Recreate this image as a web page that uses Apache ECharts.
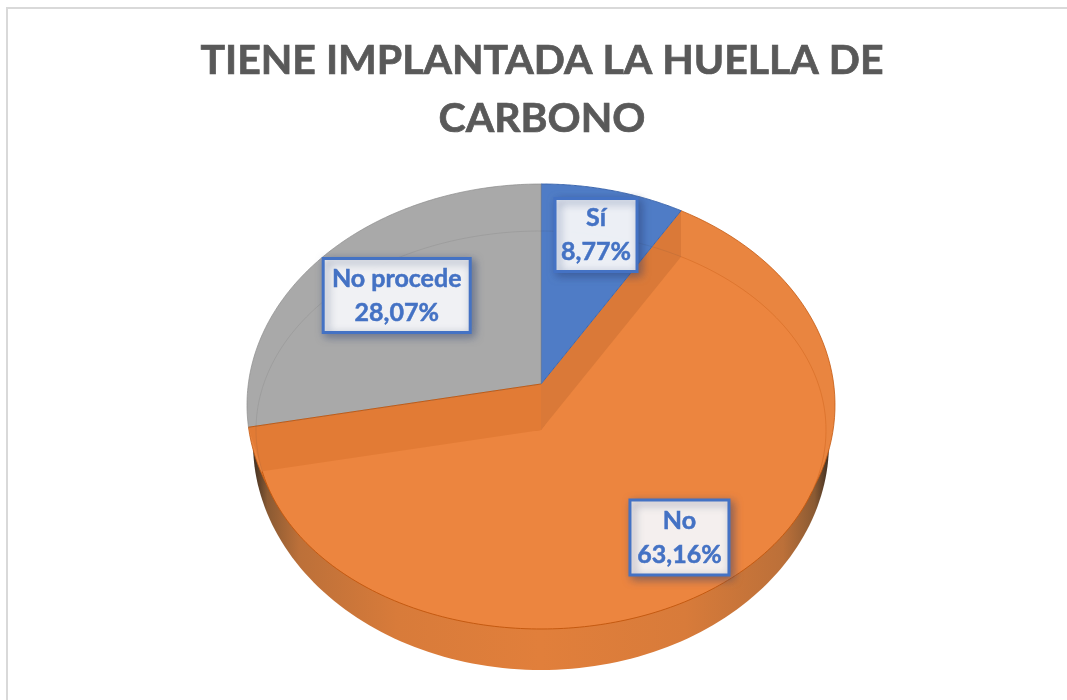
<!DOCTYPE html>
<html><head><meta charset="utf-8">
<style>html,body{margin:0;padding:0;background:#fff}#c{width:1067px;height:700px}</style>
<script src="https://cdn.jsdelivr.net/npm/echarts@6/dist/echarts.min.js"></script>
</head><body><div id="c"></div>
<script>
const categories = ['Sí', 'No', 'No procede'];
const values = [8.77, 63.16, 28.07];
const titleText = 'TIENE IMPLANTADA LA HUELLA DE\nCARBONO';

const total = values.reduce((s, v) => s + v, 0);
const cumulative = values.map((_, i) => values.slice(0, i).reduce((s, v) => s + v, 0) / total * Math.PI * 2);
const blueEnd = cumulative[1], grayStart = cumulative[2];

// view geometry of the tilted disc
const CX = 541, TOP_Y = 384, FACE_Y = 430;
const rim = { cx: CX, cy: 405, rx: 294, ry: 221 };
const face = { cx: CX, cy: FACE_Y, rx: 285, ry: 199 };
const base = { cx: CX, cy: 443, rx: 288, ry: 227 };
const warp = a => a - 0.042 * Math.sin(2 * a);   // foreshortening of the 3D view
const onEllipse = (e, p) => [e.cx + e.rx * Math.sin(p), e.cy - e.ry * Math.cos(p)];
const arc = (e, a0, a1, n = 120) => Array.from({ length: n + 1 }, (_, i) => onEllipse(e, a0 + (a1 - a0) * i / n));
// a ray leaving the raised apex in the face's projected direction, cut by the outer rim
function rimPhi(a) {
  const w = warp(a), dx = face.rx * Math.sin(w), dy = -face.ry * Math.cos(w);
  const ox = (CX - rim.cx) / rim.rx, oy = (TOP_Y - rim.cy) / rim.ry, ux = dx / rim.rx, uy = dy / rim.ry;
  const A = ux * ux + uy * uy, B = 2 * (ox * ux + oy * uy), C = ox * ox + oy * oy - 1;
  const t = (-B + Math.sqrt(B * B - 4 * A * C)) / (2 * A);
  let p = Math.atan2(ox + ux * t, -(oy + uy * t));
  return p < 0 ? p + Math.PI * 2 : p;
}
const labelAnchor = [[0.5586, 0.3357], [0.6368, 0.7679], [0.3718, 0.4221]];
const labelSize = [[82, 73], [99, 75], [147, 74]];
const fills = ['#4F7CC6', '#EC853F', '#A9A9A9'];

function renderItem(params, api) {
  const i = params.dataIndex, kids = [];
  const top = [CX, TOP_Y], low = [CX, FACE_Y];
  const pB = rimPhi(blueEnd), pG = rimPhi(grayStart);
  const cB = onEllipse(rim, pB), cG = onEllipse(rim, pG);
  const fB = warp(blueEnd), fG = warp(grayStart);
  const poly = (points, style, z2) => ({ type: 'polygon', shape: { points }, style, z2 });
  const line = (points, stroke, lineWidth, z2) => ({ type: 'polyline', shape: { points }, style: { fill: null, stroke, lineWidth }, z2 });
  if (i === 0) {
    kids.push(poly([top, ...arc(rim, 0, pB)], { fill: fills[0], stroke: '#3F68AE', lineWidth: 1 }, 5));
  } else if (i === 2) {
    kids.push(poly([top, ...arc(rim, pG, Math.PI * 2)], { fill: fills[2], stroke: '#8C8C8C', lineWidth: 0.7 }, 5));
    kids.push(line(arc(face, fG, Math.PI * 2 + fB, 200), 'rgba(60,60,60,0.10)', 1, 6));
  } else {
    kids.push(poly(arc(base, Math.PI * 0.49, Math.PI * 1.51), {
      fill: new echarts.graphic.LinearGradient(0, 0, 1, 0, [
        { offset: 0, color: '#3F2F22' }, { offset: 0.025, color: '#8A5A33' }, { offset: 0.08, color: '#BC7039' },
        { offset: 0.25, color: '#D87B3A' }, { offset: 0.5, color: '#E17F3B' }, { offset: 0.75, color: '#D87B3A' },
        { offset: 0.92, color: '#BC7039' }, { offset: 0.975, color: '#8A5A33' }, { offset: 1, color: '#3F2F22' }
      ])
    }, 1));
    kids.push(poly([low, ...arc(rim, pB, pG)], { fill: '#E98540', stroke: '#C55A11', lineWidth: 0.8 }, 2));
    kids.push(poly([low, ...arc(face, fB, fG)], { fill: fills[1] }, 3));
    kids.push(line(arc(face, fB, Math.PI * 0.6, 60), 'rgba(197,90,17,0.35)', 1, 4));
    kids.push(line(arc(face, Math.PI * 0.6, fG, 140), '#C55A11', 1, 4));
    kids.push(poly([top, cB, onEllipse(face, fB), low], { fill: '#DA7938' }, 4));
    kids.push(poly([top, cG, onEllipse(face, fG), low], { fill: '#E27B35' }, 4));
    kids.push(line([top, cG], '#C55A11', 1, 6));
  }
  const [fx, fy] = labelAnchor[i], [w, h] = labelSize[i];
  const lx = api.getWidth() * fx, ly = api.getHeight() * fy;
  kids.push({
    type: 'rect', shape: { x: lx - w / 2, y: ly - h / 2, width: w, height: h },
    style: { fill: 'rgba(255,255,255,0.9)', stroke: '#4472C4', lineWidth: 3, shadowBlur: 9, shadowOffsetX: 3, shadowOffsetY: 3, shadowColor: 'rgba(40,60,110,0.55)' }, z2: 10
  });
  kids.push({
    type: 'text', x: lx, y: ly, z2: 11,
    style: {
      text: categories[i] + '\n' + api.value(0).toFixed(2).replace('.', ',') + '%',
      fill: '#4472C4', stroke: '#4472C4', lineWidth: 0.5, font: 'bold 25px Lato', lineHeight: 34, align: 'center', verticalAlign: 'middle'
    }
  });
  return { type: 'group', children: kids };
}

const chart = echarts.init(document.getElementById('c'), null, { renderer: 'canvas' });
chart.setOption({
  animation: false,
  backgroundColor: '#fff',
  title: {
    text: titleText, left: 537, top: 27, textAlign: 'center',
    textStyle: { color: '#595959', fontFamily: 'Lato', fontWeight: 'bold', fontSize: 41, lineHeight: 58, textBorderColor: '#595959', textBorderWidth: 0.7 }
  },
  graphic: [{ type: 'rect', shape: { x: 7, y: 8, width: 1200, height: 900 }, style: { fill: null, stroke: '#D9D9D9', lineWidth: 2 }, silent: true }],
  series: [{
    type: 'custom', coordinateSystem: 'none', renderItem, silent: true,
    data: values.map((v, i) => ({ name: categories[i], value: [v] }))
  }]
});
</script></body></html>
